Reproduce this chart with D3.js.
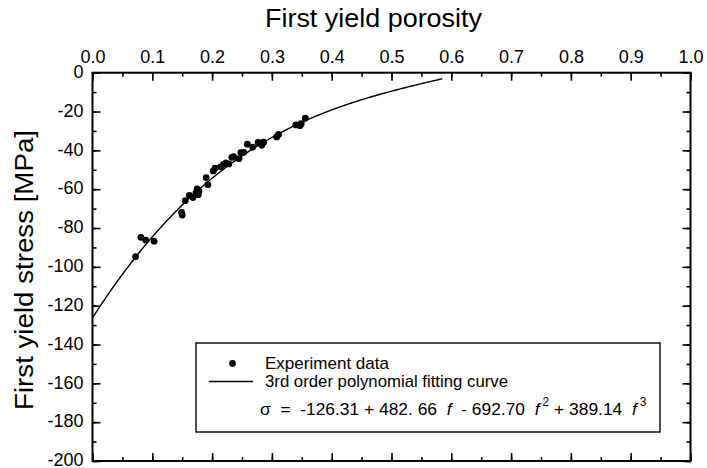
<!DOCTYPE html>
<html>
<head>
<meta charset="utf-8">
<script src="https://cdn.jsdelivr.net/npm/d3@7"></script>
<style>
  html, body { margin: 0; padding: 0; background: #fff; }
  svg { display: block; font-family: "Liberation Sans", Arial, sans-serif; }
  .eq { white-space: pre; }
</style>
</head>
<body>
<svg id="chart" width="707" height="468"></svg>
<script>
// Measured first-yield porosity (f) and first-yield stress (MPa)
const porosity = [0.072, 0.081, 0.089, 0.103, 0.149, 0.150, 0.155, 0.162, 0.168, 0.173,
                  0.175, 0.177, 0.178, 0.190, 0.193, 0.202, 0.205, 0.214, 0.219, 0.223,
                  0.228, 0.233, 0.236, 0.245, 0.248, 0.253, 0.259, 0.268, 0.277, 0.283,
                  0.286, 0.308, 0.311, 0.340, 0.347, 0.349, 0.356];
const stress = [-94.7, -84.8, -86.2, -86.8, -72.0, -73.3, -65.9, -63.2, -64.3, -62.0,
                -59.9, -62.8, -61.0, -54.0, -57.7, -50.6, -49.2, -48.5, -47.2, -46.4,
                -47.0, -43.6, -43.3, -44.3, -41.2, -41.0, -36.8, -38.4, -35.9, -37.4,
                -35.8, -33.1, -31.8, -26.9, -27.3, -26.3, -23.4];

// Cubic fit: sigma = c0 + c1 f + c2 f^2 + c3 f^3
const fitCoefficients = [-126.31, 482.66, -692.70, 389.14];
const fitRange = [0, 0.585];

const xTicks = [0, 0.1, 0.2, 0.3, 0.4, 0.5, 0.6, 0.7, 0.8, 0.9, 1.0];
const yTicks = [0, -20, -40, -60, -80, -100, -120, -140, -160, -180, -200];

const svg = d3.select("#chart");
const L = 92.5, R = 690.5, T = 72.7, B = 461;

const x = d3.scaleLinear().domain([0, 1]).range([L, R]);
const y = d3.scaleLinear().domain([0, -200]).range([T, B]);

// Axes: labels on top and left, inward ticks on all four sides
const minorX = d3.range(0, 21).map(i => i * 0.05);
const minorY = d3.range(0, 21).map(i => -i * 10);

function styleAxis(g) {
  g.select(".domain").remove();
  g.selectAll("line").attr("stroke", "#000").attr("stroke-width", 1.6);
  g.selectAll("text").attr("fill", "#000").attr("font-size", 18);
}

// minor ticks
svg.append("g").attr("transform", `translate(0,${T})`)
  .call(d3.axisBottom(x).tickValues(minorX).tickSize(4).tickFormat("")).call(styleAxis);
svg.append("g").attr("transform", `translate(0,${B})`)
  .call(d3.axisTop(x).tickValues(minorX).tickSize(4).tickFormat("")).call(styleAxis);
svg.append("g").attr("transform", `translate(${L},0)`)
  .call(d3.axisRight(y).tickValues(minorY).tickSize(4).tickFormat("")).call(styleAxis);
svg.append("g").attr("transform", `translate(${R},0)`)
  .call(d3.axisLeft(y).tickValues(minorY).tickSize(4).tickFormat("")).call(styleAxis);

// major ticks
svg.append("g").attr("transform", `translate(0,${T})`)
  .call(d3.axisBottom(x).tickValues(xTicks).tickSize(8).tickFormat("")).call(styleAxis);
svg.append("g").attr("transform", `translate(0,${B})`)
  .call(d3.axisTop(x).tickValues(xTicks).tickSize(8).tickFormat("")).call(styleAxis);
svg.append("g").attr("transform", `translate(${L},0)`)
  .call(d3.axisRight(y).tickValues(yTicks).tickSize(8).tickFormat("")).call(styleAxis);
svg.append("g").attr("transform", `translate(${R},0)`)
  .call(d3.axisLeft(y).tickValues(yTicks).tickSize(8).tickFormat("")).call(styleAxis);

// tick labels
svg.append("g").attr("transform", `translate(0,${T})`)
  .call(d3.axisTop(x).tickValues(xTicks).tickSize(0).tickPadding(10).tickFormat(d3.format(".1f")))
  .call(styleAxis);
svg.append("g").attr("transform", `translate(${L},0)`)
  .call(d3.axisLeft(y).tickValues(yTicks).tickSize(0).tickPadding(9).tickFormat(d => String(d)))
  .call(styleAxis)
  .call(g => g.selectAll("text").attr("dy", "0.26em"));

// frame
svg.append("rect").attr("x", L).attr("y", T).attr("width", R - L).attr("height", B - T)
  .attr("fill", "none").attr("stroke", "#000").attr("stroke-width", 2);

// axis titles
svg.append("text").attr("x", 265).attr("y", 27).attr("font-size", 26)
  .attr("textLength", 217).attr("lengthAdjust", "spacingAndGlyphs").text("First yield porosity");
svg.append("text").attr("transform", "translate(33,410) rotate(-90)").attr("font-size", 26)
  .attr("textLength", 280).attr("lengthAdjust", "spacingAndGlyphs").text("First yield stress [MPa]");

// fitted curve
const poly = f => fitCoefficients.reduce((s, c, i) => s + c * Math.pow(f, i), 0);
const curveF = d3.range(0, 201).map(i => fitRange[0] + (fitRange[1] - fitRange[0]) * i / 200);
svg.append("path")
  .datum(curveF)
  .attr("fill", "none").attr("stroke", "#000").attr("stroke-width", 1.4)
  .attr("d", d3.line().x(f => x(f)).y(f => y(poly(f))));

// experiment points
svg.append("g").selectAll("circle")
  .data(porosity.map((f, i) => [f, stress[i]]))
  .join("circle")
  .attr("cx", d => x(d[0])).attr("cy", d => y(d[1])).attr("r", 3.4).attr("fill", "#000");

// legend
const lg = svg.append("g");
lg.append("rect").attr("x", 196).attr("y", 343).attr("width", 464).attr("height", 89)
  .attr("fill", "#fff").attr("stroke", "#000").attr("stroke-width", 1.4);
lg.append("circle").attr("cx", 232.5).attr("cy", 363.5).attr("r", 3.4).attr("fill", "#000");
lg.append("text").attr("x", 265).attr("y", 369).attr("font-size", 17)
  .attr("textLength", 124).attr("lengthAdjust", "spacingAndGlyphs").text("Experiment data");
lg.append("line").attr("x1", 209).attr("x2", 253).attr("y1", 381.5).attr("y2", 381.5)
  .attr("stroke", "#000").attr("stroke-width", 1.4);
lg.append("text").attr("x", 265).attr("y", 387).attr("font-size", 17)
  .attr("textLength", 243).attr("lengthAdjust", "spacingAndGlyphs").text("3rd order polynomial fitting curve");

// fitted equation, built from the coefficients
const fmt = v => Math.abs(v).toFixed(2);
const c = fitCoefficients;
const sign = v => (v < 0 ? "-" : "+");
const eqParts = [
  { t: "\u03c3  =  " + (c[0] < 0 ? "-" : "") + fmt(c[0]) + " " + sign(c[1]) + " " + fmt(c[1]).replace(".", ". ") + "  " },
  { t: "f", it: true },
  { t: "  " + sign(c[2]) + " " + fmt(c[2]) + "  " },
  { t: "f", it: true },
  { t: "2", sup: true },
  { t: " " + sign(c[3]) + " " + fmt(c[3]) + "  " },
  { t: "f", it: true },
  { t: "3", sup: true }
];
const eq = lg.append("text").attr("class", "eq").attr("x", 260).attr("y", 415).attr("font-size", 17.4);
eqParts.forEach((p, i) => {
  const prevSup = i > 0 && eqParts[i - 1].sup;
  eq.append("tspan")
    .attr("font-size", p.sup ? 12 : null)
    .attr("font-style", p.it ? "italic" : null)
    .attr("dx", p.sup ? 3 : null)
    .attr("dy", p.sup ? -9 : (prevSup ? 9 : null))
    .text(p.t);
});
</script>
</body>
</html>
